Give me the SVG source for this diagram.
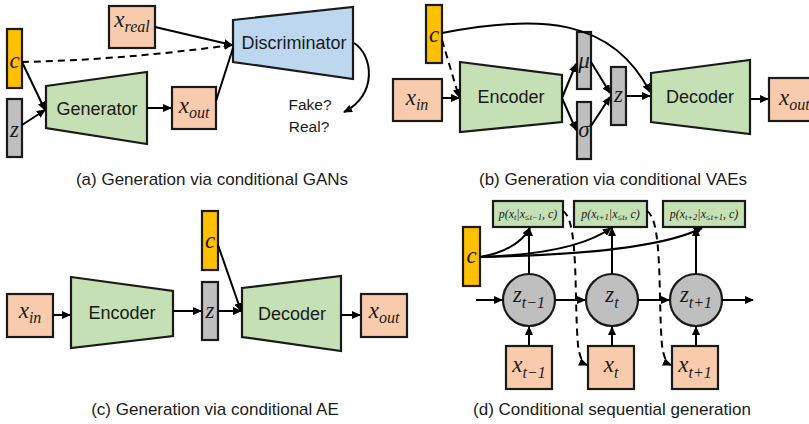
<svg xmlns="http://www.w3.org/2000/svg" width="809" height="424" viewBox="0 0 809 424">
<defs>
<marker id="ah" markerUnits="userSpaceOnUse" markerWidth="9" markerHeight="8" refX="8" refY="4" orient="auto">
<path d="M0,0 L9,4 L0,8 Z" fill="#000"/>
</marker>
<style>
.sh{stroke:#1a1a1a;stroke-width:2.2}
.or{fill:#FFC000}.gr{fill:#BFBFBF}.gn{fill:#C5E0B4}.pe{fill:#F8CBAD}.bl{fill:#BDD7EE}
.t{font-family:"Liberation Sans","Open Sans",sans-serif;font-size:18px;fill:#1a1a1a;text-anchor:middle}
.cap{font-family:"Liberation Sans","Open Sans",sans-serif;font-size:17px;fill:#1a1a1a;text-anchor:middle}
.m{font-family:"Liberation Serif","DejaVu Serif",serif;font-style:italic;font-size:23px;fill:#1a1a1a;text-anchor:middle}
.ms{font-family:"Liberation Serif","DejaVu Serif",serif;font-style:italic;font-size:12px;fill:#1a1a1a;text-anchor:middle}
.sb{font-size:16px}
.sbs{font-size:8.5px}
.ln{fill:none;stroke:#000;stroke-width:2}
.a{marker-end:url(#ah)}
.d{stroke-dasharray:7,5}
</style>
</defs>

<!-- Panel (a) -->
<g id="a-c"><rect class="sh or" x="7" y="29" width="15" height="59"/><text class="m" x="14.5" y="68">c</text></g>
<g id="a-z"><rect class="sh gr" x="7" y="99" width="15" height="58"/><text class="m" x="14.5" y="137">z</text></g>
<g id="a-gen"><path class="sh gn" d="M46,86 L147,72 L147,144 L46,128 Z"/><text class="t" x="97" y="115">Generator</text></g>
<g id="a-xout"><rect class="sh pe" x="172" y="87" width="44" height="42"/><text class="m" x="194" y="113">x<tspan class="sb" dy="5">out</tspan></text></g>
<g id="a-xreal"><rect class="sh pe" x="109" y="6" width="46" height="42"/><text class="m" x="132" y="27">x<tspan class="sb" dy="5">real</tspan></text></g>
<g id="a-disc"><path class="sh bl" d="M233,20 L353,7 L353,79 L233,62 Z"/><text class="t" x="294" y="49">Discriminator</text></g>
<g id="a-out"><text class="t" x="310" y="110" style="font-size:15.5px">Fake?</text><text class="t" x="309" y="132" style="font-size:15.5px">Real?</text></g>
<text class="cap" x="212" y="185">(a) Generation via conditional GANs</text>

<!-- Panel (b) -->
<g id="b-c"><rect class="sh or" x="426" y="5" width="16" height="58"/><text class="m" x="434" y="42">c</text></g>
<g id="b-xin"><rect class="sh pe" x="393" y="79" width="49" height="42"/><text class="m" x="417" y="105">x<tspan class="sb" dy="5">in</tspan></text></g>
<g id="b-enc"><path class="sh gn" d="M460,62 L562,75 L562,122 L460,132 Z"/><text class="t" x="511" y="103">Encoder</text></g>
<g id="b-mu"><rect class="sh gr" x="577" y="32" width="14" height="57"/><text class="m" x="584" y="68">μ</text></g>
<g id="b-sigma"><rect class="sh gr" x="577" y="102" width="14" height="57"/><text class="m" x="584" y="137">σ</text></g>
<g id="b-z"><rect class="sh gr" x="611" y="67" width="15" height="58"/><text class="m" x="618.5" y="102">z</text></g>
<g id="b-dec"><path class="sh gn" d="M651,73 L750,60 L750,134 L651,122 Z"/><text class="t" x="700" y="103">Decoder</text></g>
<g id="b-xout"><rect class="sh pe" x="769" y="78" width="50" height="43"/><text class="m" x="779" y="105" style="text-anchor:start">x<tspan class="sb" dy="5">out</tspan></text></g>
<text class="cap" x="613" y="185">(b) Generation via conditional VAEs</text>

<!-- Panel (c) -->
<g id="c-xin"><rect class="sh pe" x="7" y="294" width="46" height="43"/><text class="m" x="30" y="318">x<tspan class="sb" dy="5">in</tspan></text></g>
<g id="c-enc"><path class="sh gn" d="M71,277 L173,291 L173,336 L71,348 Z"/><text class="t" x="122" y="319">Encoder</text></g>
<g id="c-z"><rect class="sh gr" x="202" y="282" width="16" height="58"/><text class="m" x="210" y="318">z</text></g>
<g id="c-c"><rect class="sh or" x="202" y="211" width="16" height="59"/><text class="m" x="210" y="248">c</text></g>
<g id="c-dec"><path class="sh gn" d="M242,288 L341,276 L341,351 L242,337 Z"/><text class="t" x="292" y="320">Decoder</text></g>
<g id="c-xout"><rect class="sh pe" x="361" y="294" width="46" height="43"/><text class="m" x="384" y="318">x<tspan class="sb" dy="5">out</tspan></text></g>
<text class="cap" x="215" y="415">(c) Generation via conditional AE</text>

<!-- Panel (d) -->
<g id="d-p1"><rect class="sh gn" x="493" y="201" width="70" height="26"/><text class="ms" x="528" y="218">p(x<tspan class="sbs" dy="2">t</tspan><tspan dy="-2">|x</tspan><tspan class="sbs" dy="2">≤t−1</tspan><tspan dy="-2">, c)</tspan></text></g>
<g id="d-p2"><rect class="sh gn" x="574" y="201" width="73" height="26"/><text class="ms" x="610.5" y="218">p(x<tspan class="sbs" dy="2">t+1</tspan><tspan dy="-2">|x</tspan><tspan class="sbs" dy="2">≤t</tspan><tspan dy="-2">, c)</tspan></text></g>
<g id="d-p3"><rect class="sh gn" x="663" y="201" width="82" height="26"/><text class="ms" x="704" y="218">p(x<tspan class="sbs" dy="2">t+2</tspan><tspan dy="-2">|x</tspan><tspan class="sbs" dy="2">≤t+1</tspan><tspan dy="-2">, c)</tspan></text></g>
<g id="d-c"><rect class="sh or" x="463" y="227" width="17" height="59"/><text class="m" x="471.5" y="263">c</text></g>
<g id="d-z1"><circle class="sh gr" cx="529" cy="300" r="26"/><text class="m" x="529" y="302">z<tspan class="sb" dy="6">t−1</tspan></text></g>
<g id="d-z2"><circle class="sh gr" cx="612" cy="300" r="26"/><text class="m" x="612" y="302">z<tspan class="sb" dy="6">t</tspan></text></g>
<g id="d-z3"><circle class="sh gr" cx="696" cy="300" r="26"/><text class="m" x="696" y="302">z<tspan class="sb" dy="6">t+1</tspan></text></g>
<g id="d-x1"><rect class="sh pe" x="506" y="346" width="46" height="43"/><text class="m" x="529" y="372">x<tspan class="sb" dy="6">t−1</tspan></text></g>
<g id="d-x2"><rect class="sh pe" x="588" y="346" width="46" height="43"/><text class="m" x="611" y="372">x<tspan class="sb" dy="6">t</tspan></text></g>
<g id="d-x3"><rect class="sh pe" x="672" y="346" width="46" height="43"/><text class="m" x="695" y="372">x<tspan class="sb" dy="6">t+1</tspan></text></g>
<text class="cap" x="612" y="415">(d) Conditional sequential generation</text>

<!-- Connectors -->
<g id="connectors">
<path class="ln a d" d="M22,62 Q120,60 232,45"/>
<path class="ln a" d="M155,27 L232,45"/>
<path class="ln" d="M216,101 L233,48"/>
<path class="ln a" d="M22,62 L45,110"/>
<path class="ln a" d="M22,125 L45,110"/>
<path class="ln a" d="M147,108 L171,108"/>
<path class="ln a" d="M354,43 C373,55 378,95 344,112"/>

<path class="ln a" d="M442,33 C540,14 612,18 650,92"/>
<path class="ln a d" d="M442,40 L459,97"/>
<path class="ln a" d="M442,98 L459,98"/>
<path class="ln a" d="M562,98 L576,64"/>
<path class="ln a" d="M562,98 L576,130"/>
<path class="ln a" d="M591,62 L610,93"/>
<path class="ln a" d="M591,126 L610,97"/>
<path class="ln a" d="M626,96 L650,96"/>
<path class="ln a" d="M750,99 L768,99"/>

<path class="ln a" d="M53,315 L70,315"/>
<path class="ln a" d="M173,311 L201,311"/>
<path class="ln a" d="M218,311 L241,311"/>
<path class="ln a" d="M218,245 L241,311"/>
<path class="ln a" d="M341,315 L360,315"/>

<path class="ln a" d="M476,300 L502,300"/>
<path class="ln a" d="M555,300 L585,300"/>
<path class="ln a" d="M638,300 L669,300"/>
<path class="ln a" d="M722,300 L753,300"/>
<path class="ln a" d="M529,274 L529,228"/>
<path class="ln a" d="M612,274 L612,228"/>
<path class="ln a" d="M696,274 L696,228"/>
<path class="ln a" d="M529,346 L529,327"/>
<path class="ln a" d="M612,346 L612,327"/>
<path class="ln a" d="M696,346 L696,327"/>
<path class="ln a" d="M480,257 Q518,250 530,228"/>
<path class="ln a" d="M480,257 Q575,254 611,228"/>
<path class="ln a" d="M480,257 Q650,254 702,228"/>
<path class="ln a d" d="M563,211 C579,220 574,300 578,345 Q580,362 587,365"/>
<path class="ln a d" d="M647,211 C663,220 658,300 662,345 Q664,362 671,365"/>
</g>
</svg>
